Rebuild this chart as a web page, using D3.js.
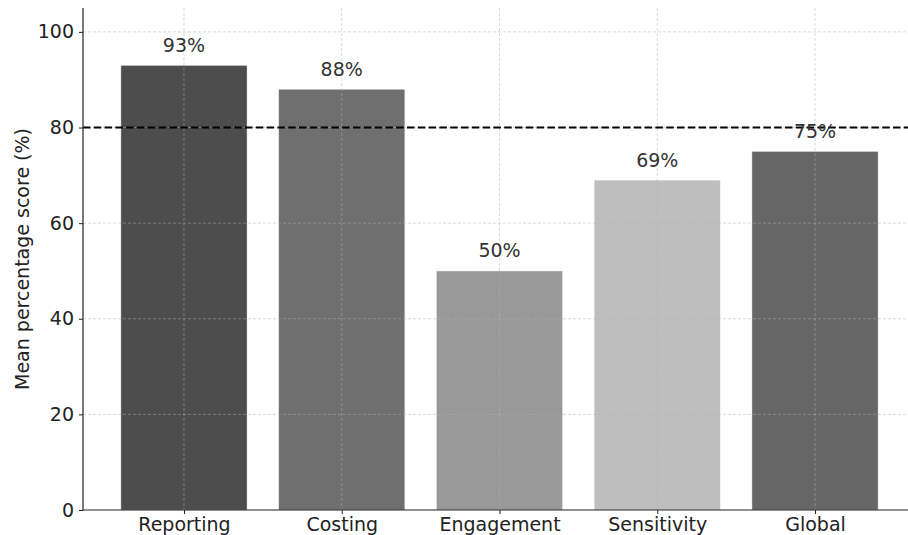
<!DOCTYPE html>
<html>
<head>
<meta charset="utf-8">
<script src="https://cdn.jsdelivr.net/npm/d3@7"></script>
<style>
  body { margin: 0; background: #fff; overflow: hidden; }
  svg { display: block; font-family: "DejaVu Sans", sans-serif; }
</style>
</head>
<body>
<div id="chart"></div>
<script>
const categories = ['Reporting', 'Costing', 'Engagement', 'Sensitivity', 'Global'];
const scores = [93, 88, 50, 69, 75];
const barColors = ['#4d4d4d', '#6f6f6f', '#999999', '#bebebe', '#666666'];
const yTicks = [0, 20, 40, 60, 80, 100];
const threshold = 80;

const width = 908, height = 535;
// plot area runs past the right edge of the picture (cropped like the original)
const margin = { top: 8, right: -8, bottom: 25, left: 83 };
const innerW = width - margin.left - margin.right;
const innerH = height - margin.top - margin.bottom;

const svg = d3.select('#chart')
    .append('svg')
    .attr('width', width)
    .attr('height', height);

const g = svg.append('g').attr('transform', `translate(${margin.left},${margin.top})`);

// matplotlib-like positions: bar i centred at i, width 0.8, 5% margins
const x = d3.scaleLinear().domain([-0.64, 4.64]).range([0, innerW]);
const y = d3.scaleLinear().domain([0, 105]).range([innerH, 0]);
const barW = x(0.8) - x(0);

// Bars
g.selectAll('.bar')
    .data(scores)
    .enter().append('rect')
    .classed('bar', true)
    .attr('x', (d, i) => x(i) - barW / 2)
    .attr('y', d => y(d))
    .attr('width', barW)
    .attr('height', d => y(0) - y(d))
    .attr('fill', (d, i) => barColors[i])
    .attr('stroke', '#ffffff')
    .attr('stroke-opacity', 0.5)
    .attr('stroke-width', 0.8);

// Grid (drawn over bars)
g.selectAll('.hgrid')
    .data(yTicks.filter(t => t > 0))
    .enter().append('line')
    .attr('x1', 0).attr('x2', innerW)
    .attr('y1', d => y(d)).attr('y2', d => y(d))
    .attr('stroke', '#b0b0b0')
    .attr('stroke-opacity', 0.6)
    .attr('stroke-dasharray', '3,2')
    .attr('stroke-width', 0.8);

g.selectAll('.vgrid')
    .data(categories)
    .enter().append('line')
    .attr('x1', (d, i) => x(i)).attr('x2', (d, i) => x(i))
    .attr('y1', 0).attr('y2', innerH)
    .attr('stroke', '#b0b0b0')
    .attr('stroke-opacity', 0.6)
    .attr('stroke-dasharray', '3,2')
    .attr('stroke-width', 0.8);

// Threshold line
g.append('line')
    .attr('x1', 0).attr('x2', innerW)
    .attr('y1', y(threshold)).attr('y2', y(threshold))
    .attr('stroke', '#000')
    .attr('stroke-width', 2)
    .attr('stroke-dasharray', '7.5,3.3');

// Value labels
g.selectAll('.value')
    .data(scores)
    .enter().append('text')
    .attr('x', (d, i) => x(i))
    .attr('y', d => y(d + 2) - 4)
    .attr('text-anchor', 'middle')
    .attr('font-size', 19)
    .attr('fill', '#333333')
    .text(d => d + '%');

// Axes
const yAxis = d3.axisLeft(y).tickValues(yTicks).tickSize(4).tickPadding(5);
const xAxis = d3.axisBottom(x).tickValues(d3.range(categories.length))
    .tickFormat(i => categories[i]).tickSize(4).tickPadding(4);

const yg = g.append('g').call(yAxis);
const xg = g.append('g').attr('transform', `translate(0,${innerH})`).call(xAxis);

[yg, xg].forEach(a => {
    a.select('.domain').attr('stroke', '#222').attr('stroke-width', 1.2);
    a.selectAll('.tick line').attr('stroke', '#222').attr('stroke-width', 1);
    a.selectAll('.tick text')
        .attr('font-size', 19)
        .attr('font-family', '"DejaVu Sans", sans-serif')
        .attr('fill', '#222');
});
yg.select('.domain').attr('d', `M0,0V${innerH}`);
xg.select('.domain').attr('d', `M0,0H${innerW}`);

// Y label
svg.append('text')
    .attr('transform', `translate(29,${margin.top + innerH / 2}) rotate(-90)`)
    .attr('text-anchor', 'middle')
    .attr('font-size', 19)
    .attr('fill', '#222')
    .text('Mean percentage score (%)');
</script>
</body>
</html>
